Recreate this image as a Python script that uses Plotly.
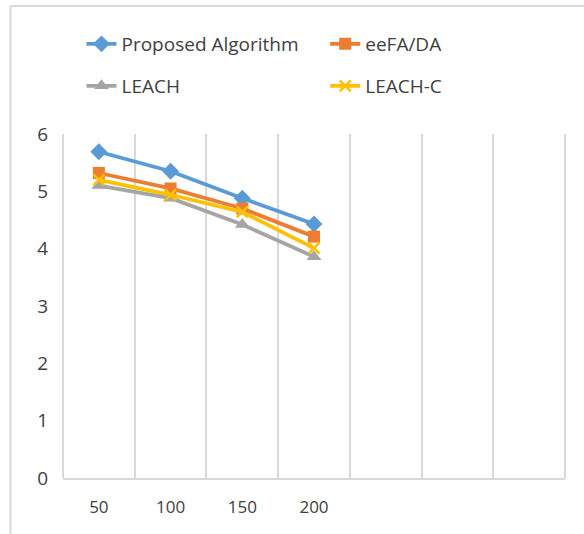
import plotly.graph_objects as go

categories = ["50", "100", "150", "200"]
blank_categories = [" ", "  ", "   "]
proposed = [5.69, 5.35, 4.88, 4.43]
eefa_da = [5.32, 5.05, 4.70, 4.21]
leach = [5.10, 4.88, 4.42, 3.86]
leach_c = [5.20, 4.94, 4.64, 4.01]
y_ticks = [0, 1, 2, 3, 4, 5, 6]

W, H = 584, 534
L, R, T, B = 62.5, 19, 134, 56
pw, ph = W - L - R, H - T - B

fig = go.Figure()
series = [
    ("Proposed Algorithm", proposed, "#5B9BD5", "diamond", 13, "legend", 81, 44),
    ("eeFA/DA", eefa_da, "#ED7D31", "square", 12, "legend2", 325, 44),
    ("LEACH", leach, "#A5A5A5", "triangle-up", 13, "legend3", 81, 86),
    ("LEACH-C", leach_c, "#FFC000", "x-thin", 11, "legend4", 325, 86),
]

def px_x(p):
    return (p - L) / pw

def px_y(p):
    return (H - B - p) / ph

font = "Open Sans"
legends = {}
for name, vals, color, sym, sz, lg, lx, ly in series:
    fig.add_trace(go.Scatter(
        x=categories, y=vals, name=name, mode="lines+markers",
        line=dict(color=color, width=3.8),
        marker=dict(symbol=sym, size=sz, color=color,
                    line=dict(color=color, width=2.5 if sym == "x-thin" else 0)),
        legend=lg,
    ))
    legends[lg] = dict(orientation="h", font=dict(family=font, size=19, color="#404040"),
                       bgcolor="rgba(0,0,0,0)", xanchor="left", yanchor="middle",
                       x=px_x(lx), y=px_y(ly), itemwidth=30)

grid = dict(color="#D9D9D9", width=2)
fig.update_layout(
    width=W, height=H,
    margin=dict(l=L, r=R, t=T, b=B),
    paper_bgcolor="white", plot_bgcolor="white",
    showlegend=True,
    **legends,
    xaxis=dict(
        type="category", categoryorder="array",
        categoryarray=categories + blank_categories,
        range=[-0.5, 6.5], tickson="boundaries", showgrid=True,
        gridcolor="#D9D9D9", gridwidth=2, ticks="",
        showline=True, linecolor="#D9D9D9", linewidth=2,
        tickfont=dict(family=font, size=17, color="#404040"),
        ticklabelstandoff=13, zeroline=False,
    ),
    yaxis=dict(
        range=[0, 6], tickvals=y_ticks, showgrid=False, zeroline=False,
        showline=False, ticks="",
        tickfont=dict(family=font, size=19, color="#404040"),
        ticklabelstandoff=14,
    ),
    shapes=[
        dict(type="line", xref="paper", yref="paper", x0=0, x1=0, y0=0, y1=1,
             line=grid, layer="below"),
        dict(type="line", xref="paper", yref="paper", x0=1, x1=1, y0=0, y1=1,
             line=grid, layer="below"),
        dict(type="line", xref="paper", yref="paper", x0=px_x(10), x1=px_x(10),
             y0=px_y(6), y1=px_y(540), line=grid),
        dict(type="line", xref="paper", yref="paper", x0=px_x(10), x1=px_x(590),
             y0=px_y(6), y1=px_y(6), line=grid),
    ],
)

fig.write_html("out.html", config={"displayModeBar": False},
               post_script="document.body.style.margin='0';")
